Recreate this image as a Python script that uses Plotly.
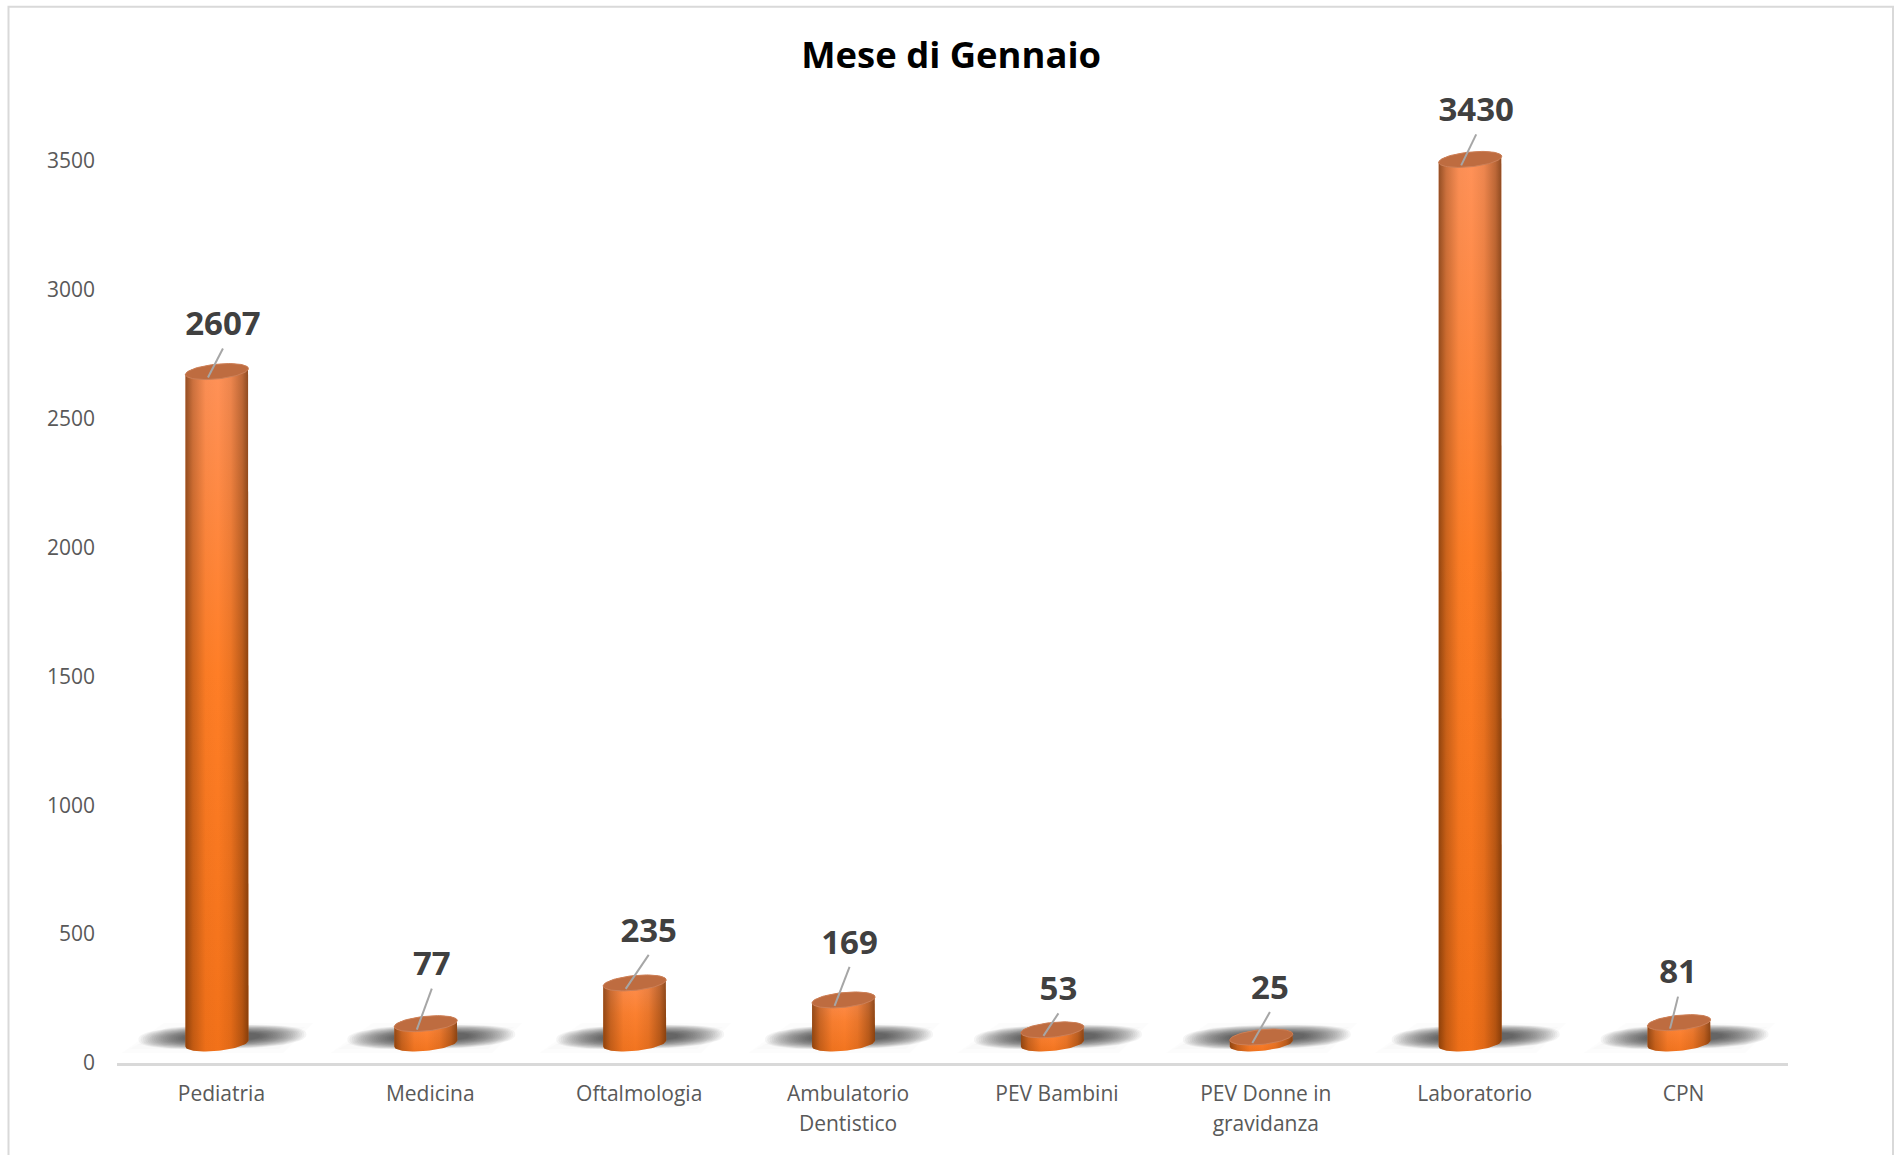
import numpy as np
import plotly.graph_objects as go

# ---- data ----
categories = ["Pediatria", "Medicina", "Oftalmologia", "Ambulatorio<br>Dentistico",
              "PEV Bambini", "PEV Donne in<br>gravidanza", "Laboratorio", "CPN"]
values = [2607, 77, 235, 169, 53, 25, 3430, 81]
y_ticks = [0, 500, 1000, 1500, 2000, 2500, 3000, 3500]
title_text = "Mese di Gennaio"

# ---- layout geometry (page pixels) ----
W, H = 1894, 1155
L, R, AXIS_Y = 117, 1788, 1063
Y_MAX = 4000
PX_PER_UNIT = 902 / 3500
PLOT_H = Y_MAX * PX_PER_UNIT
TOP = AXIS_Y - PLOT_H
PX_PER_CAT = (R - L) / len(categories)

# styles / offsets
FLOOR_PX = 19.5          # visual raise of the 3-D floor
BAR_DX = -4.5
A, TILT, B = 31.5, 3.0, 7.4
label_dx = [6, 6, 14, 6, 6, 8.6, 6, -1]
label_dy = [44.5, 56.5, 49.5, 54.5, 38, 46.5, 46.5, 47.5]


def px_x(dx):
    return dx / PX_PER_CAT


def px_y(dy):
    return dy / PX_PER_UNIT


def ellipse(cx, cy, t, a=A, b=B, tilt=TILT):
    return cx + px_x(a * np.cos(t)), cy + px_y(tilt * np.cos(t) + b * np.sin(t))


fig = go.Figure()
centers = np.arange(len(values)) + 0.5
floor = px_y(FLOOR_PX)

# --- floor shadows ---
t_all = np.linspace(0, 2 * np.pi, 60)
for inset, alpha in [(0, 0.012), (4, 0.012), (8, 0.012)]:
    sx, sy = [], []
    for c in centers:
        skew = np.array([-100 + inset * 2, -58 + inset, 92 - inset * 2, 62 - inset])
        xs = c + px_x(skew)
        ys = np.array([px_y(10 + inset), px_y(40 - inset), px_y(40 - inset), px_y(10 + inset)])
        sx += list(xs) + [xs[0], None]
        sy += list(ys) + [ys[0], None]
    fig.add_trace(go.Scatter(x=sx, y=sy, mode="lines", fill="toself", line=dict(width=0),
                             fillcolor=f"rgba(0,0,0,{alpha})", hoverinfo="skip", showlegend=False))
N_LAYERS = 22
for k in range(N_LAYERS):
    f = k / (N_LAYERS - 1)
    rx, ry = 84 - 46 * f, 12 - 8 * f
    sx, sy = [], []
    for c in centers:
        xx = c + px_x(1) + px_x(rx * np.sign(np.cos(t_all)) * np.abs(np.cos(t_all)) ** 0.8)
        yy = px_y(26) + px_y(ry * np.sign(np.sin(t_all)) * np.abs(np.sin(t_all)) ** 0.8
                             + 0.03 * rx * np.cos(t_all))
        sx += list(xx) + [None]
        sy += list(yy) + [None]
    fig.add_trace(go.Scatter(x=sx, y=sy, mode="lines", fill="toself", line=dict(width=0),
                             fillcolor="rgba(20,20,20,0.042)", hoverinfo="skip", showlegend=False))

# --- cylinders ---
t_bot = np.linspace(np.pi, 2 * np.pi, 40)
t_top = np.linspace(0, np.pi, 40)
t_cap = np.linspace(0, 2 * np.pi, 80)
shade = [[0, "rgba(70,30,0,0.58)"], [0.12, "rgba(70,30,0,0.28)"], [0.32, "rgba(70,30,0,0.03)"],
         [0.52, "rgba(70,30,0,0.0)"], [0.72, "rgba(70,30,0,0.10)"], [0.9, "rgba(70,30,0,0.36)"],
         [1, "rgba(70,30,0,0.62)"]]
for c, v in zip(centers, values):
    cx = c + px_x(BAR_DX)
    top = floor + v
    xb, yb = ellipse(cx, floor, t_bot)
    xt, yt = ellipse(cx, top, t_top)
    bx = np.r_[xb, xt, xb[0]]
    by = np.r_[yb, yt, yb[0]]
    if v > 1000:
        vertical = [[0, "#F27119"], [0.55, "#FF7E26"], [1, "#FF9259"]]
    else:
        vertical = [[0, "#F2741F"], [0.5, "#FB8030"], [1, "#FF9256"]]
    fig.add_trace(go.Scatter(x=bx, y=by, mode="lines", fill="toself", line=dict(width=0),
                             fillgradient=dict(type="vertical", colorscale=vertical),
                             hoverinfo="skip", showlegend=False))
    fig.add_trace(go.Scatter(x=bx, y=by, mode="lines", fill="toself", line=dict(width=0),
                             fillgradient=dict(type="horizontal", colorscale=shade),
                             hoverinfo="skip", showlegend=False))
    xc, yc = ellipse(cx, top, t_cap)
    fig.add_trace(go.Scatter(x=xc, y=yc, mode="lines", fill="toself",
                             line=dict(width=1, color="#CC8058"), fillcolor="#BE6C40",
                             hoverinfo="skip", showlegend=False))

# --- leader lines and labels ---
lx, ly, tx, ty = [], [], [], []
for c, v, dx, dy in zip(centers, values, label_dx, label_dy):
    cx = c + px_x(BAR_DX)
    top = floor + v
    xlab = cx + px_x(dx)
    ylab = top + px_y(dy)
    tx.append(xlab)
    ty.append(ylab)
    lx += [cx + px_x(-9), xlab, None]
    ly += [top - px_y(6), ylab - px_y(21.5), None]
fig.add_trace(go.Scatter(x=lx, y=ly, mode="lines", line=dict(color="#A6A6A6", width=2),
                         hoverinfo="skip", showlegend=False))
fig.add_trace(go.Scatter(x=tx, y=ty, mode="text", text=[str(v) for v in values],
                         textposition="middle center",
                         textfont=dict(family="Open Sans", size=33, color="#404040", weight=700),
                         hoverinfo="skip", showlegend=False, cliponaxis=False))

# tick labels keep a wider line pitch than their glyph size
tick_text = ['<span style="font-size:21px">' + s.replace('<br>', '</span><br><span style="font-size:21px">') + '</span>'
             for s in categories]

fig.update_layout(
    width=W, height=H,
    margin=dict(l=L, r=W - R, t=TOP, b=H - AXIS_Y, autoexpand=False),
    paper_bgcolor="white", plot_bgcolor="white", showlegend=False,
    font=dict(family="Open Sans", color="#595959"),
    title=dict(text=f"<b>{title_text}</b>", x=945.5 / W, y=1 - 55 / H, xref="paper", yref="container",
               xanchor="center", yanchor="middle",
               font=dict(family="Open Sans", size=36.4, color="#000000")),
    xaxis=dict(range=[0, len(values)], tickmode="array", tickvals=list(centers), ticktext=tick_text,
               showgrid=False, zeroline=False, showline=True, linecolor="#D9D9D9", linewidth=2.5,
               ticks="", ticklabelstandoff=8, tickfont=dict(size=23, color="#595959"), tickangle=0),
    yaxis=dict(range=[0, Y_MAX], tickmode="array", tickvals=y_ticks,
               showgrid=False, zeroline=False, showline=False,
               ticks="", ticklabelstandoff=21, tickfont=dict(size=21, color="#595959")),
    shapes=[dict(type="rect", xref="paper", yref="paper",
                 x0=(8.5 - L) / (R - L), x1=(1893 - L) / (R - L),
                 y0=-(H + 20 - AXIS_Y) / PLOT_H, y1=(AXIS_Y - 7) / PLOT_H,
                 line=dict(color="#D9D9D9", width=2), layer="below")],
)

fig.write_html("out.html", config={"displayModeBar": False},
               post_script="document.body.style.margin='0';document.body.style.overflow='hidden';")
